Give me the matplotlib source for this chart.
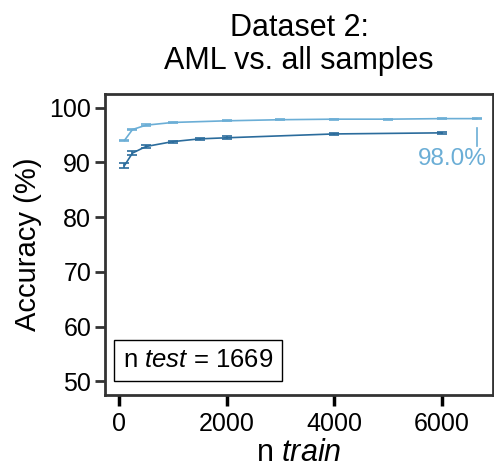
import matplotlib
matplotlib.use("Agg")
import matplotlib.pyplot as plt

plt.rcParams['font.family'] = ['Liberation Sans', 'DejaVu Sans']
plt.rcParams['mathtext.fontset'] = 'custom'
plt.rcParams['mathtext.rm'] = 'Liberation Sans'
plt.rcParams['mathtext.it'] = 'Liberation Sans:italic'

# all samples (light) vs. AML (dark)
n_light = [100, 250, 500, 1000, 2000, 3000, 4000, 5000, 6000, 6650]
acc_light = [94.0, 96.0, 96.8, 97.3, 97.6, 97.8, 97.9, 97.9, 98.0, 98.0]
err_light = [0.15, 0.15, 0.15, 0.1, 0.1, 0.1, 0.1, 0.1, 0.1, 0.1]

n_dark = [100, 250, 500, 1000, 1500, 2000, 4000, 6000]
acc_dark = [89.4, 91.7, 92.9, 93.8, 94.3, 94.5, 95.2, 95.4]
err_dark = [0.45, 0.4, 0.3, 0.2, 0.25, 0.25, 0.2, 0.15]

light = "#6baed6"
dark = "#2b6c9c"
spine_col = "#333333"

fig = plt.figure(figsize=(4.94, 4.74), dpi=100)
ax = fig.add_axes([0.2126, 0.1667, 0.786, 0.635])

ax.errorbar(n_light, acc_light, yerr=err_light, color=light, lw=1.2,
            capsize=3.5, capthick=1.2, elinewidth=1.2)
ax.errorbar(n_dark, acc_dark, yerr=err_dark, color=dark, lw=1.2,
            capsize=3.5, capthick=1.2, elinewidth=1.2)

# label for last value
ax.plot([n_light[-1], n_light[-1]], [96.3, 93.0], color=light, lw=1.2)
ax.text(6830, 90.6, "98.0%", color=light, fontsize=17.5, ha="right", va="center")

ax.text(0.046, 0.075, r"n $\it{test}$ = 1669", transform=ax.transAxes, fontsize=18.5,
        ha="left", va="bottom",
        bbox=dict(boxstyle="square,pad=0.33", fc="white", ec="black", lw=1))

ax.set_xlim(-260, 6960)
ax.set_ylim(47.5, 102.5)
ax.set_xticks([0, 2000, 4000, 6000])
ax.set_yticks([50, 60, 70, 80, 90, 100])

for s in ax.spines.values():
    s.set_color(spine_col)
    s.set_linewidth(2)
ax.tick_params(axis="y", length=7, width=2, color=spine_col, labelsize=18, pad=3)
ax.tick_params(axis="x", length=8, width=2.5, color="black", labelsize=18, pad=4)

ax.set_ylabel("Accuracy (%)", fontsize=21, labelpad=5)
ax.set_xlabel(r"n $\it{train}$", fontsize=22, labelpad=2)
ax.set_title("Dataset 2:\nAML vs. all samples", fontsize=22, pad=18, linespacing=1.15)

fig.savefig("out.png", dpi=100)
